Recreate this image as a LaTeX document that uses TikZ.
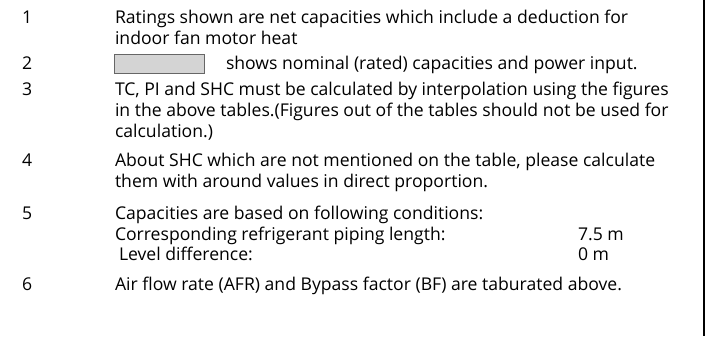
\documentclass[tikz,border=0pt]{standalone}
\usepackage{fontspec}
\setmainfont{Open Sans}
\begin{document}
\begin{tikzpicture}[x=1bp,y=-1bp,
  txt/.style={anchor=base west,inner sep=0pt,outer sep=0pt,font=\fontsize{17.6bp}{20bp}\selectfont},
  num/.style={txt}]
\useasboundingbox (0,0) rectangle (712,336);
\draw[line width=2bp] (704,0) -- (704,336);
% item 1
\node[num] (n1) at (22,23) {1};
\node[txt] (t1a) at (115,23) {Ratings shown are net capacities which include a deduction for};
\node[txt] (t1b) at (115,44) {indoor fan motor heat};
% item 2
\node[num] (n2) at (22,69) {2};
\node[draw=black!60,fill=black!17,line width=0.8bp,minimum width=90bp,minimum height=19bp,inner sep=0pt,anchor=north west] (box) at (114,54) {};
\node[txt] (t2) at (226,69) {shows nominal (rated) capacities and power input.};
% item 3
\node[num] (n3) at (22,95) {3};
\node[txt] (t3a) at (115,95) {TC, PI and SHC must be calculated by interpolation using the figures};
\node[txt] (t3b) at (115,116) {in the above tables.(Figures out of the tables should not be used for};
\node[txt] (t3c) at (115,137) {calculation.)};
% item 4
\node[num] (n4) at (22,166) {4};
\node[txt] (t4a) at (115,166) {About SHC which are not mentioned on the table, please calculate};
\node[txt] (t4b) at (115,187) {them with around values in direct proportion.};
% item 5
\node[num] (n5) at (22,219) {5};
\node[txt] (t5a) at (115,219) {Capacities are based on following conditions:};
\node[txt] (t5b) at (115,240) {Corresponding refrigerant piping length:};
\node[txt] (t5c) at (578,240) {7.5 m};
\node[txt] (t5d) at (119,260) {Level difference:};
\node[txt] (t5e) at (578,260) {0 m};
% item 6
\node[num] (n6) at (22,290) {6};
\node[txt] (t6) at (115,290) {Air flow rate (AFR) and Bypass factor (BF) are taburated above.};
\end{tikzpicture}
\end{document}
